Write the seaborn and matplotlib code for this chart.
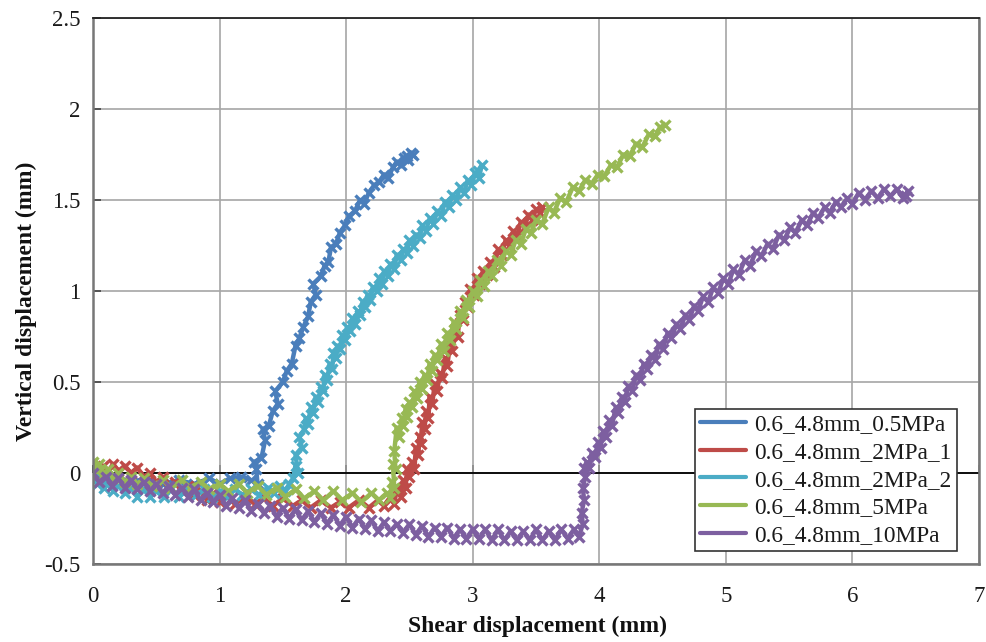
import matplotlib
matplotlib.use("Agg")
import matplotlib.pyplot as plt
import seaborn as sns
import pandas as pd
from matplotlib.lines import Line2D

# ---------------- data ----------------
labels = ["0.6_4.8mm_0.5MPa", "0.6_4.8mm_2MPa_1", "0.6_4.8mm_2MPa_2",
          "0.6_4.8mm_5MPa", "0.6_4.8mm_10MPa"]
colors = ["#4A7EBB", "#BE4B48", "#4BACC6", "#98B954", "#7D5FA0"]

blue_x = [0.00, 0.08, 0.18, 0.30, 0.42, 0.55, 0.68, 0.80, 0.92, 1.00, 1.08, 1.17, 1.25, 1.30, 1.29, 1.27,
          1.33, 1.36, 1.34, 1.39, 1.42, 1.46, 1.44, 1.50, 1.53, 1.57, 1.60, 1.63, 1.66, 1.70, 1.72, 1.76,
          1.74, 1.80, 1.83, 1.86, 1.88, 1.92, 1.95, 1.99, 2.02, 2.07, 2.11, 2.14, 2.18, 2.22, 2.26, 2.30,
          2.33, 2.37, 2.40, 2.43, 2.46, 2.49, 2.51, 2.48, 2.53]
blue_y = [-0.01, -0.03, -0.02, -0.05, -0.03, -0.06, -0.04, -0.06, -0.03, -0.06, -0.03, -0.02, -0.04, -0.06, 0.02, 0.06,
          0.08, 0.18, 0.24, 0.26, 0.34, 0.38, 0.45, 0.50, 0.56, 0.60, 0.70, 0.74, 0.80, 0.86, 0.94, 0.98,
          1.04, 1.08, 1.14, 1.16, 1.24, 1.26, 1.32, 1.36, 1.41, 1.44, 1.50, 1.48, 1.54, 1.58, 1.60, 1.64,
          1.62, 1.68, 1.71, 1.69, 1.73, 1.72, 1.76, 1.74, 1.75]

red_x = [0.00, 0.05, 0.08, 0.12, 0.16, 0.20, 0.25, 0.30, 0.35, 0.40, 0.45, 0.50, 0.55, 0.60, 0.65, 0.70,
         0.75, 0.80, 0.85, 0.90, 0.95, 1.00, 1.05, 1.12, 1.20, 1.28, 1.35, 1.42, 1.50, 1.58, 1.65, 1.72,
         1.80, 1.88, 1.95, 2.02, 2.10, 2.18, 2.25, 2.30, 2.35, 2.38, 2.40, 2.43, 2.45, 2.47, 2.48, 2.50,
         2.52, 2.54, 2.55, 2.57, 2.58, 2.59, 2.60, 2.62, 2.63, 2.65, 2.66, 2.68, 2.70, 2.72, 2.74, 2.76,
         2.78, 2.80, 2.82, 2.84, 2.86, 2.88, 2.90, 2.92, 2.94, 2.96, 2.98, 3.01, 3.03, 3.06, 3.08, 3.11,
         3.14, 3.17, 3.20, 3.23, 3.26, 3.29, 3.32, 3.35, 3.38, 3.41, 3.44, 3.47, 3.50, 3.53, 3.55]
red_y = [0.02, -0.01, 0.04, 0.01, 0.05, 0.01, 0.04, 0.00, 0.03, -0.02, 0.00, -0.05, -0.02, -0.08, -0.05, -0.10,
         -0.07, -0.12, -0.10, -0.15, -0.11, -0.16, -0.12, -0.17, -0.13, -0.17, -0.14, -0.18, -0.14, -0.18, -0.15, -0.19,
         -0.15, -0.19, -0.16, -0.19, -0.15, -0.19, -0.15, -0.18, -0.13, -0.17, -0.09, -0.13, -0.04, -0.08, 0.02, -0.02,
         0.06, 0.02, 0.14, 0.10, 0.20, 0.16, 0.28, 0.24, 0.34, 0.30, 0.42, 0.38, 0.49, 0.45, 0.55, 0.52,
         0.63, 0.59, 0.71, 0.67, 0.79, 0.75, 0.87, 0.84, 0.94, 0.91, 1.01, 0.98, 1.07, 1.04, 1.11, 1.09,
         1.16, 1.13, 1.23, 1.20, 1.28, 1.25, 1.33, 1.30, 1.38, 1.35, 1.42, 1.39, 1.45, 1.43, 1.46]

cyan_x = [0.00, 0.03, 0.06, 0.09, 0.12, 0.16, 0.20, 0.25, 0.30, 0.35, 0.40, 0.45, 0.50, 0.56, 0.62, 0.68,
          0.75, 0.81, 0.88, 0.94, 1.00, 1.06, 1.12, 1.18, 1.25, 1.31, 1.38, 1.43, 1.48, 1.52, 1.55, 1.58,
          1.60, 1.62, 1.60, 1.65, 1.63, 1.67, 1.68, 1.70, 1.72, 1.74, 1.76, 1.78, 1.80, 1.82, 1.83, 1.85,
          1.87, 1.89, 1.90, 1.92, 1.93, 1.95, 1.97, 1.99, 2.01, 2.03, 2.05, 2.07, 2.09, 2.11, 2.13, 2.15,
          2.17, 2.19, 2.21, 2.24, 2.26, 2.28, 2.30, 2.33, 2.35, 2.38, 2.40, 2.43, 2.45, 2.48, 2.50, 2.53,
          2.55, 2.58, 2.60, 2.63, 2.66, 2.69, 2.72, 2.75, 2.78, 2.81, 2.84, 2.87, 2.90, 2.93, 2.96, 2.99,
          3.02, 3.05, 3.07, 3.04]
cyan_y = [-0.01, -0.06, -0.03, -0.08, -0.05, -0.10, -0.07, -0.11, -0.08, -0.13, -0.09, -0.13, -0.10, -0.13, -0.09, -0.13,
          -0.09, -0.12, -0.09, -0.13, -0.10, -0.13, -0.09, -0.12, -0.09, -0.12, -0.08, -0.11, -0.07, -0.10, -0.06, -0.03,
          0.04, 0.00, 0.10, 0.14, 0.20, 0.24, 0.30, 0.27, 0.36, 0.33, 0.42, 0.39, 0.47, 0.45, 0.54, 0.51,
          0.60, 0.57, 0.66, 0.63, 0.70, 0.68, 0.76, 0.73, 0.80, 0.78, 0.85, 0.82, 0.89, 0.87, 0.94, 0.91,
          0.98, 0.95, 1.02, 1.00, 1.07, 1.04, 1.11, 1.08, 1.15, 1.12, 1.20, 1.17, 1.23, 1.21, 1.28, 1.25,
          1.31, 1.29, 1.36, 1.33, 1.40, 1.37, 1.44, 1.41, 1.49, 1.46, 1.53, 1.50, 1.57, 1.54, 1.61, 1.58,
          1.65, 1.62, 1.69, 1.66]

green_x = [0.00, 0.03, 0.05, 0.08, 0.12, 0.16, 0.20, 0.25, 0.30, 0.35, 0.40, 0.47, 0.55, 0.62, 0.70, 0.77,
           0.85, 0.92, 1.00, 1.07, 1.15, 1.22, 1.30, 1.37, 1.45, 1.52, 1.60, 1.67, 1.75, 1.82, 1.90, 1.97,
           2.05, 2.12, 2.20, 2.26, 2.32, 2.35, 2.36, 2.38, 2.37, 2.39, 2.38, 2.40, 2.42, 2.44, 2.45, 2.47,
           2.48, 2.50, 2.52, 2.54, 2.56, 2.58, 2.60, 2.62, 2.64, 2.66, 2.68, 2.70, 2.72, 2.75, 2.77, 2.80,
           2.82, 2.85, 2.87, 2.90, 2.92, 2.95, 2.97, 3.00, 3.03, 3.06, 3.09, 3.12, 3.15, 3.19, 3.22, 3.26,
           3.30, 3.34, 3.38, 3.42, 3.46, 3.50, 3.55, 3.60, 3.64, 3.69, 3.74, 3.79, 3.84, 3.89, 3.94, 3.99,
           4.04, 4.09, 4.14, 4.19, 4.24, 4.29, 4.34, 4.39, 4.44, 4.48, 4.52]
green_y = [0.06, 0.01, 0.05, -0.01, 0.02, -0.03, 0.00, -0.05, -0.02, -0.06, -0.03, -0.07, -0.04, -0.08, -0.04, -0.08,
           -0.05, -0.09, -0.06, -0.10, -0.06, -0.11, -0.07, -0.12, -0.08, -0.13, -0.09, -0.14, -0.10, -0.15, -0.10, -0.15,
           -0.11, -0.16, -0.11, -0.15, -0.11, -0.14, -0.05, -0.08, 0.05, 0.02, 0.12, 0.25, 0.20, 0.30, 0.26, 0.35,
           0.31, 0.39, 0.36, 0.45, 0.41, 0.50, 0.46, 0.54, 0.51, 0.60, 0.56, 0.65, 0.62, 0.71, 0.67, 0.77,
           0.73, 0.83, 0.79, 0.89, 0.85, 0.95, 0.91, 1.00, 0.97, 1.06, 1.03, 1.11, 1.08, 1.17, 1.14, 1.22,
           1.20, 1.28, 1.26, 1.34, 1.32, 1.39, 1.37, 1.46, 1.43, 1.51, 1.49, 1.57, 1.55, 1.61, 1.59, 1.64,
           1.63, 1.69, 1.68, 1.75, 1.74, 1.81, 1.79, 1.86, 1.85, 1.90, 1.91]

purple_x = [0.00, 0.05, 0.10, 0.15, 0.20, 0.25, 0.30, 0.35, 0.40, 0.45, 0.50, 0.55, 0.60, 0.65, 0.70, 0.75,
            0.80, 0.85, 0.90, 0.95, 1.00, 1.05, 1.10, 1.15, 1.20, 1.25, 1.30, 1.35, 1.40, 1.45, 1.50, 1.55,
            1.60, 1.65, 1.70, 1.75, 1.80, 1.85, 1.90, 1.95, 2.00, 2.05, 2.10, 2.15, 2.20, 2.25, 2.30, 2.35,
            2.40, 2.45, 2.50, 2.55, 2.60, 2.65, 2.70, 2.75, 2.80, 2.85, 2.90, 2.95, 3.00, 3.05, 3.10, 3.15,
            3.20, 3.25, 3.30, 3.35, 3.40, 3.45, 3.50, 3.55, 3.60, 3.65, 3.70, 3.75, 3.80, 3.84, 3.87, 3.86,
            3.88, 3.87, 3.89, 3.88, 3.90, 3.92, 3.94, 3.97, 3.99, 4.01, 4.03, 4.05, 4.08, 4.10, 4.13, 4.15,
            4.18, 4.20, 4.23, 4.26, 4.29, 4.32, 4.35, 4.38, 4.41, 4.44, 4.47, 4.50, 4.54, 4.57, 4.61, 4.64,
            4.68, 4.71, 4.75, 4.78, 4.82, 4.86, 4.90, 4.94, 4.98, 5.02, 5.06, 5.10, 5.15, 5.19, 5.24, 5.28,
            5.33, 5.37, 5.42, 5.46, 5.51, 5.55, 5.60, 5.64, 5.69, 5.73, 5.78, 5.82, 5.87, 5.91, 5.96, 6.00,
            6.05, 6.10, 6.15, 6.20, 6.25, 6.30, 6.35, 6.40, 6.44, 6.42]
purple_y = [0.00, -0.05, -0.02, -0.07, -0.03, -0.08, -0.04, -0.09, -0.05, -0.10, -0.06, -0.11, -0.07, -0.12, -0.08, -0.13,
            -0.09, -0.15, -0.11, -0.16, -0.12, -0.18, -0.14, -0.19, -0.15, -0.21, -0.17, -0.22, -0.18, -0.24, -0.19, -0.25,
            -0.20, -0.26, -0.21, -0.27, -0.22, -0.28, -0.23, -0.29, -0.24, -0.30, -0.25, -0.31, -0.26, -0.32, -0.27, -0.32,
            -0.28, -0.33, -0.28, -0.34, -0.29, -0.35, -0.30, -0.35, -0.30, -0.36, -0.31, -0.36, -0.31, -0.36, -0.31, -0.37,
            -0.31, -0.37, -0.32, -0.37, -0.32, -0.37, -0.31, -0.37, -0.32, -0.37, -0.31, -0.36, -0.31, -0.35, -0.28, -0.22,
            -0.15, -0.08, -0.02, 0.03, 0.06, 0.03, 0.11, 0.09, 0.17, 0.14, 0.23, 0.20, 0.29, 0.26, 0.36, 0.33,
            0.42, 0.39, 0.48, 0.45, 0.54, 0.51, 0.60, 0.57, 0.65, 0.62, 0.71, 0.68, 0.77, 0.74, 0.82, 0.79,
            0.87, 0.84, 0.92, 0.89, 0.97, 0.94, 1.02, 0.99, 1.07, 1.04, 1.12, 1.09, 1.17, 1.14, 1.22, 1.19,
            1.26, 1.23, 1.31, 1.28, 1.35, 1.32, 1.39, 1.36, 1.43, 1.40, 1.46, 1.43, 1.49, 1.46, 1.51, 1.48,
            1.54, 1.50, 1.55, 1.51, 1.56, 1.52, 1.56, 1.51, 1.55, 1.52]

xs = [blue_x, red_x, cyan_x, green_x, purple_x]
ys = [blue_y, red_y, cyan_y, green_y, purple_y]

x_ticks = [0, 1, 2, 3, 4, 5, 6, 7]
y_ticks = [-0.5, 0, 0.5, 1, 1.5, 2, 2.5]
y_tick_labels = ["-0.5", "0", "0.5", "1", "1.5", "2", "2.5"]
x_label = "Shear displacement (mm)"
y_label = "Vertical displacement (mm)"

# ---------------- plot ----------------
sns.set_theme(style="white")
plt.rcParams["font.family"] = ["Liberation Serif", "DejaVu Serif"]

fig = plt.figure(figsize=(9.87, 6.42), dpi=100)
ax = fig.add_axes([93 / 987, 1 - 564 / 642, (979 - 93) / 987, (564 - 18) / 642])

for lab, col, x, y in zip(labels, colors, xs, ys):
    d = pd.DataFrame({"x": x, "y": y})
    sns.lineplot(data=d, x="x", y="y", sort=False, estimator=None, color=col,
                 linewidth=3.2, marker="x", markersize=6.5, markeredgewidth=2.4,
                 markeredgecolor=col, markerfacecolor=col, ax=ax, legend=False)

ax.set_xlim(0, 7)
ax.set_ylim(-0.5, 2.5)
ax.set_xticks(x_ticks)
ax.set_yticks(y_ticks)
ax.set_yticklabels(y_tick_labels)
ax.grid(True, color="#A6A6A6", linewidth=1.2)
ax.set_axisbelow(True)

for side in ["left", "bottom", "right"]:
    ax.spines[side].set_color("#777777")
    ax.spines[side].set_linewidth(1.8)
ax.spines["top"].set_color("#222222")
ax.spines["top"].set_linewidth(1.3)

ax.tick_params(axis="y", direction="in", length=6, width=1.2, color="#444444",
               labelsize=16.5, pad=9, left=True)
ax.tick_params(axis="x", length=0, labelsize=16.5, pad=16)
for t in ax.get_xticklabels() + ax.get_yticklabels():
    t.set_color("#1a1a1a")

# horizontal axis line crossing at y = 0
ax.axhline(0, color="black", linewidth=1.3, zorder=1.5)
sec = ax.secondary_xaxis(1 / 6)
sec.set_xticks(x_ticks)
sec.tick_params(axis="x", direction="in", length=6, width=1.2, color="black", labelbottom=False)
sec.spines["bottom"].set_visible(False)

ax.set_xlabel(x_label, fontsize=17, fontweight="bold", color="#111111")
ax.set_ylabel(y_label, fontsize=17, fontweight="bold", color="#111111")
ax.xaxis.set_label_coords((538 - 93) / 886, -(616 - 564) / 546)
ax.yaxis.set_label_coords(-(93 - 37) / 886, 1 - (301 - 18) / 546)

# legend
handles = [Line2D([0], [0], color=c, linewidth=3) for c in colors]
leg = ax.legend(handles, labels, loc="lower right", bbox_to_anchor=(957 / 987, 1 - 551 / 642),
                bbox_transform=fig.transFigure, fontsize=16.8, frameon=True, fancybox=False,
                handlelength=2.0, handletextpad=0.35, labelspacing=0.27, borderpad=0.22,
                borderaxespad=0)
leg.get_frame().set_edgecolor("#333333")
leg.get_frame().set_linewidth(1.2)
leg.get_frame().set_alpha(1)
for t in leg.get_texts():
    t.set_color("#1a1a1a")

fig.savefig("out.png", dpi=100)
